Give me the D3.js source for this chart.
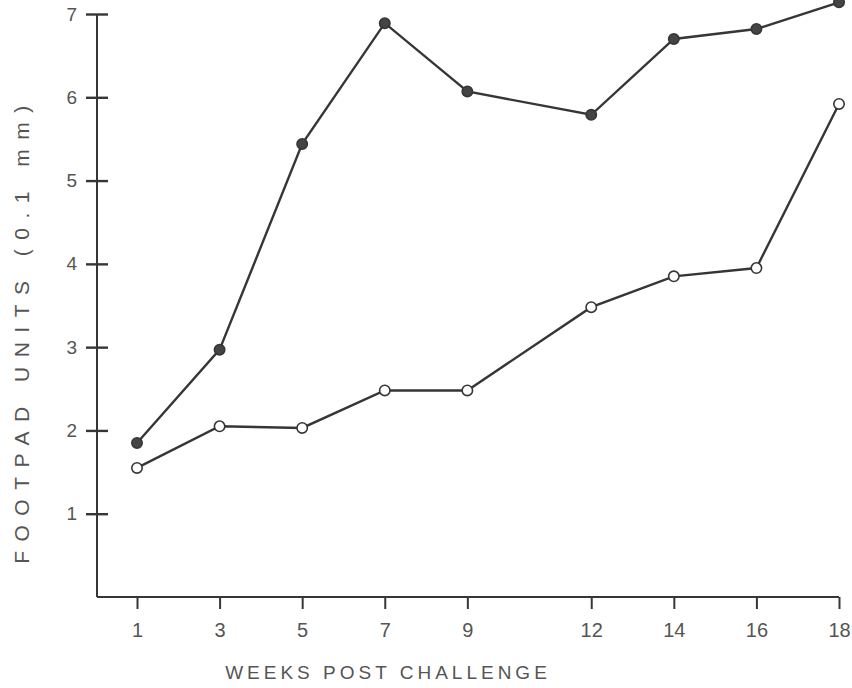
<!DOCTYPE html>
<html>
<head>
<meta charset="utf-8">
<script src="https://cdn.jsdelivr.net/npm/d3@7"></script>
<style>
  html, body { margin: 0; padding: 0; background: #fff; }
  svg { display: block; }
  text { font-family: "Liberation Sans", Arial, Helvetica, sans-serif; fill: #555; }
</style>
</head>
<body>
<svg id="chart" width="852" height="688"></svg>
<script>
// Weeks after challenge and mean footpad swelling (units of 0.1 mm)
const weeks = [1, 3, 5, 7, 9, 12, 14, 16, 18];
const filledSeries = [1.85, 2.97, 5.44, 6.89, 6.07, 5.79, 6.70, 6.82, 7.14];
const openSeries   = [1.55, 2.05, 2.03, 2.48, 2.48, 3.48, 3.85, 3.95, 5.92];
const yTicks = [1, 2, 3, 4, 5, 6, 7];
const xLabel = "WEEKS POST CHALLENGE";
const yLabel = "FOOTPAD UNITS (0.1 mm)";

const svg = d3.select("#chart");
const axisX0 = 97, axisY0 = 597;

const x = d3.scaleLinear().domain([1, 18]).range([137, 839]);
const y = d3.scaleLinear().domain([0, 7]).range([axisY0, 14]);

const ink = "#363636";

// Y axis: vertical line with ticks crossing it
svg.append("line")
  .attr("x1", axisX0).attr("x2", axisX0)
  .attr("y1", y(7)).attr("y2", axisY0)
  .attr("stroke", ink).attr("stroke-width", 2);

const yAxis = svg.append("g")
  .attr("transform", `translate(${axisX0},0)`)
  .call(d3.axisLeft(y).tickValues(yTicks).tickSize(11).tickPadding(9).tickFormat(d3.format("d")));
yAxis.select(".domain").remove();
yAxis.selectAll(".tick line")
  .attr("x1", -11).attr("x2", 11)
  .attr("stroke", ink).attr("stroke-width", 2.4);
yAxis.selectAll(".tick text")
  .style("font-size", "19px").attr("fill", "#555");

// X axis: horizontal line from the Y axis to the last week
svg.append("line")
  .attr("x1", axisX0).attr("x2", x(18))
  .attr("y1", axisY0).attr("y2", axisY0)
  .attr("stroke", ink).attr("stroke-width", 2);

const xAxis = svg.append("g")
  .attr("transform", `translate(0,${axisY0})`)
  .call(d3.axisBottom(x).tickValues(weeks).tickSize(12).tickPadding(14).tickFormat(d3.format("d")));
xAxis.select(".domain").remove();
xAxis.selectAll(".tick line").attr("stroke", ink).attr("stroke-width", 2);
xAxis.selectAll(".tick text")
  .style("font-size", "20px").attr("fill", "#555");

// Axis titles
svg.append("text")
  .attr("x", 388).attr("y", 679)
  .attr("text-anchor", "middle")
  .style("font-size", "19px")
  .style("letter-spacing", "4px")
  .text(xLabel);

svg.append("text")
  .attr("transform", "translate(29,330) rotate(-90)")
  .attr("text-anchor", "middle")
  .style("font-size", "21px")
  .style("letter-spacing", "9.5px")
  .text(yLabel);

// Series lines and markers
const line = d3.line()
  .x((d, i) => x(weeks[i]))
  .y(d => y(d));

function drawSeries(values, filled) {
  svg.append("path")
    .datum(values)
    .attr("d", line)
    .attr("fill", "none")
    .attr("stroke", ink)
    .attr("stroke-width", 2.4);
  svg.append("g").selectAll("circle")
    .data(values)
    .join("circle")
    .attr("cx", (d, i) => x(weeks[i]))
    .attr("cy", d => y(d))
    .attr("r", 5.2)
    .attr("fill", filled ? "#444" : "#fff")
    .attr("stroke", ink)
    .attr("stroke-width", 1.6);
}

drawSeries(openSeries, false);
drawSeries(filledSeries, true);
</script>
</body>
</html>
